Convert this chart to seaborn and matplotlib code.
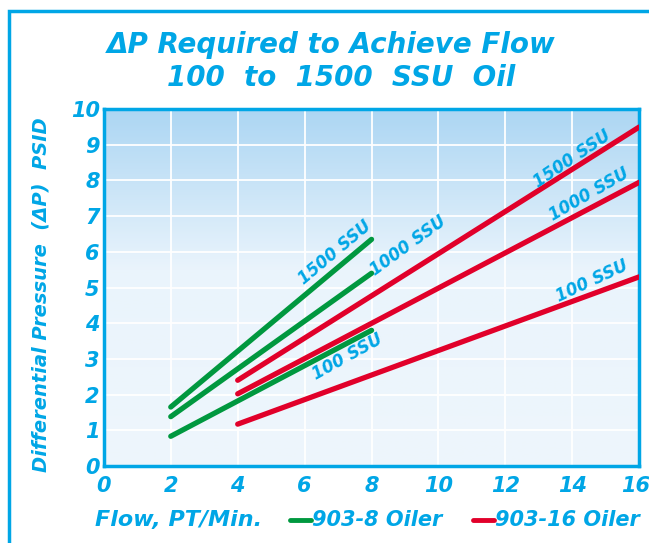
import numpy as np
import pandas as pd
import matplotlib.pyplot as plt
import seaborn as sns
from matplotlib.colors import LinearSegmentedColormap
from matplotlib.lines import Line2D
from matplotlib.patches import Rectangle
import matplotlib.transforms as mtransforms

# data
ssu_grades = ['1500 SSU', '1000 SSU', '100 SSU']
flow_903_8 = [2, 8]
dp_903_8 = [[1.65, 6.35], [1.38, 5.40], [0.83, 3.80]]
flow_903_16 = [4, 16]
dp_903_16 = [[2.40, 9.50], [2.02, 7.95], [1.17, 5.30]]
x_ticks = [0, 2, 4, 6, 8, 10, 12, 14, 16]
y_ticks = list(range(11))

BLUE = '#00a6e6'
GREEN = '#00983f'
RED = '#e1002a'

rows = []
for grade, vals in zip(ssu_grades, dp_903_8):
    for f, p in zip(flow_903_8, vals):
        rows.append({'flow': f, 'dp': p, 'oiler': '903-8 Oiler', 'ssu': grade})
for grade, vals in zip(ssu_grades, dp_903_16):
    for f, p in zip(flow_903_16, vals):
        rows.append({'flow': f, 'dp': p, 'oiler': '903-16 Oiler', 'ssu': grade})
df = pd.DataFrame(rows)

sns.set_style('white')
plt.rcParams['font.family'] = ['DejaVu Sans']

fig = plt.figure(figsize=(6.49, 5.43), dpi=100)
ax = fig.add_axes([0.160, 0.142, 0.825, 0.657])

# gradient background
cmap = LinearSegmentedColormap.from_list('bg', [(0, '#eef6fc'), (0.55, '#eaf4fc'), (1, '#acd6f3')])
grad = np.linspace(0, 1, 256).reshape(-1, 1)
ax.imshow(grad, extent=[0, 16, 0, 10], origin='lower', aspect='auto', cmap=cmap, zorder=0)

for xv in x_ticks[1:-1]:
    ax.axvline(xv, color='white', lw=1.3, zorder=1)
for yv in y_ticks[1:-1]:
    ax.axhline(yv, color='white', lw=1.3, zorder=1)

sns.lineplot(data=df, x='flow', y='dp', hue='oiler', units='ssu', estimator=None,
             palette={'903-8 Oiler': GREEN, '903-16 Oiler': RED}, lw=3.8,
             legend=False, ax=ax, zorder=3, solid_capstyle='round')

ax.set_xlim(0, 16)
ax.set_ylim(0, 10)
ax.set_xticks(x_ticks)
ax.set_yticks(y_ticks)
tick_font = dict(fontsize=15, fontweight='bold', fontstyle='italic', color=BLUE)
ax.set_xticklabels([str(t) for t in x_ticks], **tick_font)
ax.set_yticklabels([str(t) for t in y_ticks], **tick_font)
ax.tick_params(length=0)
ax.tick_params(axis='x', pad=7)
ax.tick_params(axis='y', pad=3)
# nudge the last x label so it stays inside the frame
last = ax.get_xticklabels()[-1]
last.set_transform(last.get_transform() + mtransforms.ScaledTranslation(-4 / 100, 0, fig.dpi_scale_trans))
ax.set_xlabel('')
ax.set_ylabel('')
fig.text(41 / 649, 1 - 295 / 543, 'Differential Pressure  (\u0394P)  PSID', fontsize=14,
         fontweight='bold', fontstyle='italic', color=BLUE, rotation=90, ha='center', va='center')
for sp in ax.spines.values():
    sp.set_color(BLUE)
    sp.set_linewidth(2.5)
    sp.set_visible(True)

# curve labels
lab = dict(fontsize=12, fontweight='bold', fontstyle='italic', color=BLUE,
           ha='center', va='center', zorder=4)
ax.text(6.9, 5.97, '1500 SSU', rotation=40, **lab)
ax.text(9.1, 6.16, '1000 SSU', rotation=36, **lab)
ax.text(7.27, 3.05, '100 SSU', rotation=29, **lab)
ax.text(14.0, 8.6, '1500 SSU', rotation=34, **lab)
ax.text(14.5, 7.6, '1000 SSU', rotation=30, **lab)
ax.text(14.6, 5.18, '100 SSU', rotation=25, **lab)

# title
title_font = dict(fontsize=20, fontweight='bold', fontstyle='italic', color=BLUE, ha='center', va='center')
fig.text(331 / 649, 1 - 45 / 543, '\u0394P Required to Achieve Flow', **title_font)
fig.text(341 / 649, 1 - 78 / 543, '100  to  1500  SSU  Oil', **title_font)

# bottom legend line
bot = dict(fontsize=15, fontweight='bold', fontstyle='italic', color=BLUE, va='center')
ybot = 1 - 520 / 543
fig.text(95 / 649, ybot, 'Flow, PT/Min.', fontsize=16, fontweight='bold', fontstyle='italic',
         color=BLUE, va='center')
fig.add_artist(Line2D([290 / 649, 311 / 649], [ybot, ybot], color=GREEN, lw=3.5))
fig.text(312 / 649, ybot, '903-8 Oiler', **bot)
fig.add_artist(Line2D([473 / 649, 494 / 649], [ybot, ybot], color=RED, lw=3.5))
fig.text(495 / 649, ybot, '903-16 Oiler', **bot)

# outer frame
fig.add_artist(Rectangle((9 / 649, -0.1), 1.2, 1.1 - 11 / 543, transform=fig.transFigure,
                         fill=False, edgecolor=BLUE, lw=2.5))

fig.savefig('out.png', dpi=100)
